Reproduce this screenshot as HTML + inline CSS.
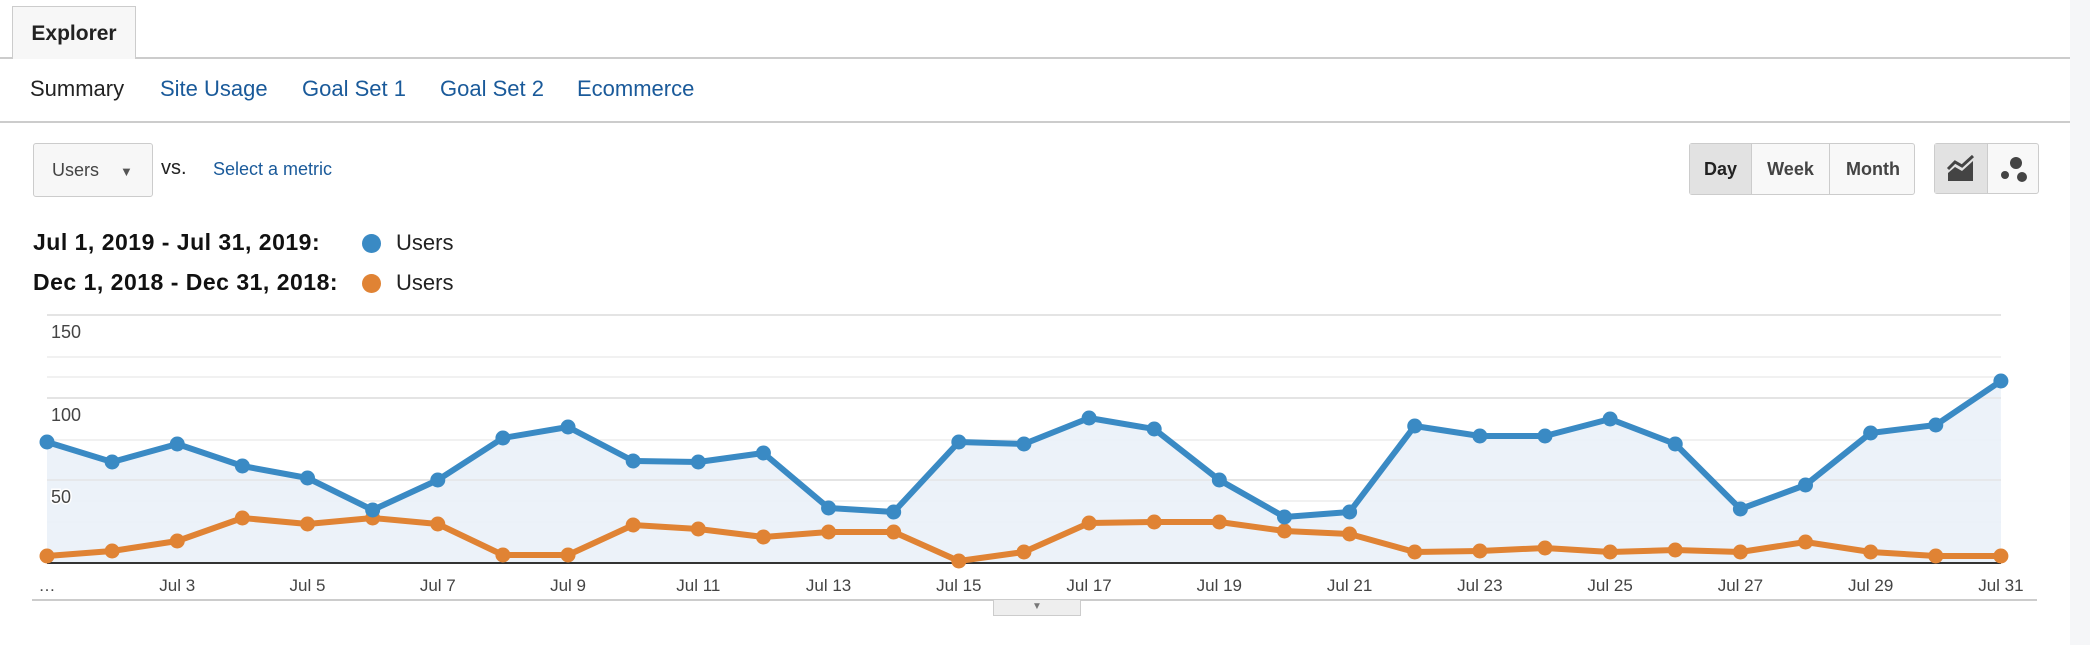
<!DOCTYPE html>
<html><head><meta charset="utf-8"><style>
body{margin:0;width:2090px;height:645px;background:#fff;font-family:"Liberation Sans",sans-serif;position:relative;overflow:hidden}
.a{position:absolute;white-space:nowrap}
.nav{top:76px;font-size:22px;color:#1a5a9a}
.btn{position:absolute;top:143px;height:52px;border:1px solid #ccc;border-radius:3px;background:#f8f8f8;box-sizing:border-box}
.seg{position:absolute;top:0;height:100%;display:flex;align-items:center;justify-content:center;font-weight:bold;font-size:18px;color:#444;box-sizing:border-box}
</style></head><body>
<div class="a" style="left:0;top:57px;width:2070px;height:2px;background:#ccc"></div>
<div class="a" style="left:12px;top:6px;width:124px;height:53px;border:1px solid #ccc;border-bottom:none;background:#f7f7f7;box-sizing:border-box;font-weight:bold;font-size:21px;line-height:54px;text-align:center;color:#222">Explorer</div>
<div class="a" style="left:2070px;top:0;width:20px;height:645px;background:#f5f6f8"></div>
<div class="a nav" style="left:30px;color:#222">Summary</div>
<div class="a nav" style="left:160px">Site Usage</div>
<div class="a nav" style="left:302px">Goal Set 1</div>
<div class="a nav" style="left:440px">Goal Set 2</div>
<div class="a nav" style="left:577px">Ecommerce</div>
<div class="a" style="left:0;top:121px;width:2070px;height:2px;background:#ccc"></div>
<div class="a" style="left:33px;top:143px;width:120px;height:54px;border:1px solid #ccc;border-radius:3px;background:#f7f7f7;box-sizing:border-box;font-size:18px;color:#444;line-height:52px;padding-left:18px">Users <span style="font-size:13px;margin-left:16px;color:#555">▼</span></div>
<div class="a" style="left:161px;top:157px;font-size:20px;color:#222">vs.</div>
<div class="a" style="left:213px;top:159px;font-size:18px;color:#1a5a9a">Select a metric</div>
<div class="btn" style="left:1689px;width:226px">
<div class="seg" style="left:0;width:61px;background:#e2e2e2;color:#222">Day</div>
<div class="seg" style="left:61px;width:78px;border-left:1px solid #ccc">Week</div>
<div class="seg" style="left:139px;width:87px;border-left:1px solid #ccc">Month</div></div>
<div class="btn" style="left:1934px;width:105px;height:51px">
<div class="seg" style="left:0;width:52px;background:#e2e2e2"><svg width="30" height="28"><path d="M2 26 L2 18 L9 12 L16 16 L27 6 L27 26Z" fill="#444"/><path d="M2 14 L9 7 L16 11 L27 1" stroke="#444" stroke-width="3" fill="none"/></svg></div>
<div class="seg" style="left:52px;width:53px;border-left:1px solid #ccc"><svg width="32" height="30"><circle cx="18" cy="9" r="6" fill="#444"/><circle cx="7" cy="21" r="4" fill="#444"/><circle cx="24" cy="23" r="5" fill="#444"/></svg></div></div>
<div class="a" style="left:33px;top:229px;font-size:23px;font-weight:bold;color:#111;letter-spacing:0.5px">Jul 1, 2019 - Jul 31, 2019:</div>
<div class="a" style="left:33px;top:269px;font-size:23px;font-weight:bold;color:#111;letter-spacing:0.5px">Dec 1, 2018 - Dec 31, 2018:</div>
<div class="a" style="left:362px;top:234px;width:19px;height:19px;border-radius:50%;background:#3a8ac4"></div>
<div class="a" style="left:362px;top:274px;width:19px;height:19px;border-radius:50%;background:#e08334"></div>
<div class="a" style="left:396px;top:230px;font-size:22px;color:#222">Users</div>
<div class="a" style="left:396px;top:270px;font-size:22px;color:#222">Users</div>
<svg class="a" style="left:0;top:0" width="2090" height="645" id="c"></svg>
<div class="a" style="left:32px;top:599px;width:2005px;height:2px;background:#ccc"></div>
<div class="a" style="left:993px;top:600px;width:88px;height:16px;background:#eee;border:1px solid #ccc;border-top:none;box-sizing:border-box;text-align:center;font-size:10px;color:#777;line-height:14px">▼</div>
<script>
var B=[442,462,444,466,478,510,480,438,427,461,462,453,508,512,442,444,418,429,480,517,512,426,436,436,419,444,509,485,433,425,381];
var O=[556,551,541,518,524,518,524,555,555,525,529,537,532,532,561,552,523,522,522,531,534,552,551,548,552,550,552,542,552,556,556];
var s='';
[315,357,377,398,440,480,501,522].forEach(function(y,i){s+='<line x1="47" x2="2001" y1="'+y+'" y2="'+y+'" stroke="'+([0,3,5].indexOf(i)>=0?'#e6e6e6':'#f1f1f1')+'" stroke-width="2"/>';});
function X(i){return 47+i*65.13;}
var pb=B.map(function(y,i){return X(i).toFixed(1)+','+y}).join(' ');
var po=O.map(function(y,i){return X(i).toFixed(1)+','+y}).join(' ');
s+='<polygon points="47,562 '+pb+' 2001,562" fill="#eaf1f8" opacity="0.9"/>';
[315,398,480].forEach(function(y){s+='<line x1="47" x2="2001" y1="'+y+'" y2="'+y+'" stroke="#e4e4e4" stroke-width="2" opacity="0.6"/>';});
s+='<line x1="47" x2="2001" y1="563" y2="563" stroke="#333" stroke-width="2"/>';
s+='<text x="51" y="338" font-size="18" fill="#444" font-family="Liberation Sans">150</text>';
s+='<text x="51" y="421" font-size="18" fill="#444" font-family="Liberation Sans">100</text>';
s+='<text x="51" y="503" font-size="18" fill="#444" font-family="Liberation Sans" stroke="#fff" stroke-width="3" paint-order="stroke">50</text>';
s+='<polyline points="'+po+'" fill="none" stroke="#e08334" stroke-width="6" stroke-linejoin="round"/>';
s+='<polyline points="'+pb+'" fill="none" stroke="#3a8ac4" stroke-width="6" stroke-linejoin="round"/>';
O.forEach(function(y,i){s+='<circle cx="'+X(i)+'" cy="'+y+'" r="7.5" fill="#e08334"/>';});
B.forEach(function(y,i){s+='<circle cx="'+X(i)+'" cy="'+y+'" r="7.5" fill="#3a8ac4"/>';});
s+='<text x="47" y="591" font-size="17" fill="#444" font-family="Liberation Sans" text-anchor="middle">…</text>';
for(var d=3;d<=31;d+=2){s+='<text x="'+X(d-1)+'" y="591" font-size="17" fill="#444" font-family="Liberation Sans" text-anchor="middle">Jul '+d+'</text>';}
document.getElementById('c').innerHTML=s;
</script>
</body></html>
